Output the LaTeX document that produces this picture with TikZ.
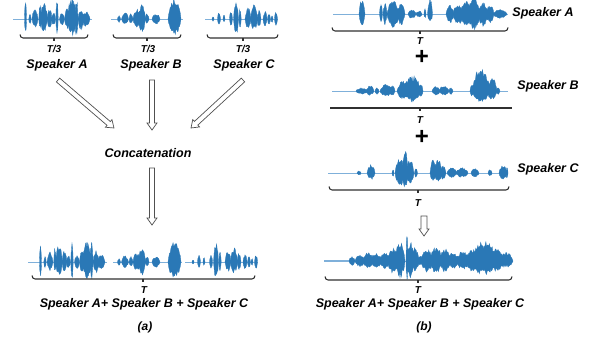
\documentclass[tikz,border=0pt]{standalone}
\usepackage{fontspec}
\setmainfont{Liberation Sans}
\usetikzlibrary{calc}
\definecolor{wavec}{HTML}{2A78B6}
\definecolor{basec}{HTML}{7FB0DA}
\definecolor{bracec}{HTML}{303030}
\definecolor{arrowc}{HTML}{505050}
\tikzset{
  wavefill/.style={fill=wavec, draw=wavec, line width=0.3pt},
  baseln/.style={draw=basec, line width=0.8pt},
  bracestyle/.style={draw=bracec, line width=1.1pt},
  lbl/.style={inner sep=0pt, font=\fontsize{12.5}{14}\selectfont\bfseries\itshape},
  smalllbl/.style={inner sep=0pt, font=\fontsize{10}{12}\selectfont\bfseries\itshape},
  caplbl/.style={inner sep=0pt, font=\fontsize{12}{14}\selectfont\bfseries\itshape},
  pluslbl/.style={inner sep=0pt, font=\fontsize{24}{24}\selectfont\bfseries},
  harrowstyle/.style={draw=arrowc, line width=0.7pt, fill=white},
}
\def\wamp{1.12}
\newcommand\wblob[4]{%
  \pgfmathtruncatemacro\wbns{max(9,3*#2)}%
  \fill[wavefill] plot[domain=-1:1,samples=\wbns] ({#1+#2*\x},{-\wamp*#3*(0.5*(1-(\x)*(\x))+0.5*sqrt(max(0,1-(\x)*(\x))))*(0.62+0.38*rnd)})
    -- plot[domain=1:-1,samples=\wbns] ({#1+#2*\x},{\wamp*#4*(0.5*(1-(\x)*(\x))+0.5*sqrt(max(0,1-(\x)*(\x))))*(0.62+0.38*rnd)}) -- cycle;}
\newcommand\wave[5]{%
  \begin{scope}[shift={(#4,#3)}]
    \draw[baseln] (#1,0) -- (#2,0);
    \foreach \wc/\ww/\wt/\wb in #5 {\wblob{\wc}{\ww}{\wt}{\wb}}
  \end{scope}}
\newcommand\wbrace[4]{%
  \draw[bracestyle] (#1,#3-3.5) to[out=-90,in=180] (#1+3,#3) -- (#2-3,#3) to[out=0,in=-90] (#2,#3-3.5);
  \draw[bracestyle] (#4,#3) -- (#4,#3+3);}
\newcommand\harrow[5]{%
  \coordinate (hh) at ($(#2)!#5!(#1)$);
  \draw[harrowstyle] ($(#1)!#3!90:(#2)$) -- ($(hh)!#3!90:(#2)$) -- ($(hh)!#4!90:(#2)$) -- (#2)
    -- ($(hh)!#4!-90:(#2)$) -- ($(hh)!#3!-90:(#2)$) -- ($(#1)!#3!-90:(#2)$) -- cycle;}
\def\blobsLA{25.5/1/17/14, 30/1.2/5/5, 35/3/9/8, 40/1.2/13/9, 44/3.5/15/12, 49.5/2.5/10/9, 53.5/2/6/6, 57/1.2/18/15, 62/2.5/6/6, 67/2.5/10/9, 72/5/18/15, 76.5/1.5/20/16, 81/3/10/10, 86/4/7/7}
\def\blobsLB{119/1.5/3/3, 125/3.5/6/5, 131/2/5/4, 137/4/9/8, 142/3.5/14/12, 147/2/5/4, 156/4/5/5, 174.5/6.5/19/15}
\def\blobsLC{213/1/2/2, 219/1.5/6/5, 224/1/4/3, 231/1.5/7/6, 236/2.5/17/15, 240/1.2/9/8, 248/3/10/9, 254/3.5/13/10, 259/2/8/7, 265/2/7/7, 269/1.5/5/5, 272/1/3/3, 276/1.5/7/6}
\def\blobsRA{362/3/14/11, 381/1.5/9/7, 385/2/10/10, 393/6/12/13, 401/4/10/10, 412/4/4/4, 419/3/3/3, 425/1/5/4, 430/2.5/14/8, 450/4/8/8, 458/5/9/10, 466/6/12/12, 474/6/15/14, 483/5/11/11, 490/4/8/8, 500/7/4/4}
\def\blobsRB{362/6/3/3, 370/4/5/4, 377/2/3/3, 386/6/6/5, 392/3/5/5, 403/6/9/7, 412/9/14/10, 421/2/6/5, 436/4/4/4, 444/5/5/4, 451/2/3/3, 472/2/7/5, 481/9/21/10, 492/5/12/8, 498/2/3/3}
\def\blobsRC{359/2/2/2, 371/4/8/6, 393/1/3/3, 400/5/14/12, 405/3/21/15, 410/4/12/10, 416/1.5/4/4, 433/3/12/8, 438/4/13/8, 443/3/7/6, 452/5/5/4, 462/6/5/4, 475/4/4/4, 490/2/3/3, 503/4/7/6, 507/1/5/5}
\def\blobsRM{352/3/4/4, 360/5/6/5, 368/5/8/7, 376/6/7/6, 385/5/8/7, 393/6/12/11, 400/5/18/15, 407/1/24/17, 410/4/18/16, 415/4/12/10, 420/3/5/4, 427/6/11/10, 436/6/13/11, 445/6/11/10, 453/5/8/7, 463/7/9/8, 472/6/11/10, 480/7/17/12, 488/7/19/13, 497/6/12/10, 506/7/8/6}
\begin{document}
\begin{tikzpicture}[x=1pt,y=-1pt]
\pgfmathsetseed{11}
\useasboundingbox (0,0) rectangle (592,343);
% ---------- left panel ----------
\wave{13}{92}{19}{0}{\blobsLA}
\wave{111}{183}{19}{0}{\blobsLB}
\wave{205}{278}{19}{0}{\blobsLC}
\wbrace{20}{88}{38}{54}
\wbrace{113}{181}{38}{147}
\wbrace{207}{278}{38}{243}
\node[smalllbl] (tA) at (54,49) {T/3};
\node[smalllbl] (tB) at (148,49) {T/3};
\node[smalllbl] (tC) at (243,49) {T/3};
\node[lbl] (spA) at (57,65) {Speaker A};
\node[lbl] (spB) at (151,65) {Speaker B};
\node[lbl] (spC) at (244,65) {Speaker C};
\node[lbl] (concat) at (148,153) {Concatenation};
\coordinate (a1s) at (58,80);  \coordinate (a1e) at (114,128);
\coordinate (a2s) at (152,80); \coordinate (a2e) at (152,130);
\coordinate (a3s) at (243,80); \coordinate (a3e) at (191,128);
\coordinate (a4s) at (152,168); \coordinate (a4e) at (152,225);
\harrow{a1s}{a1e}{2.5pt}{5pt}{7pt}
\harrow{a2s}{a2e}{2.5pt}{5pt}{7pt}
\harrow{a3s}{a3e}{2.5pt}{5pt}{7pt}
\harrow{a4s}{a4e}{2.5pt}{5pt}{7pt}
\wave{13}{92}{262}{15}{\blobsLA}
\wave{113}{182}{262}{0}{\blobsLB}
\wave{205}{278}{262}{-20}{\blobsLC}
\wbrace{32}{255}{279}{143}
\node[smalllbl] (tL) at (144,290) {T};
\node[lbl] (sumL) at (144,304) {Speaker A+ Speaker B + Speaker C};
\node[caplbl] (capa) at (145,327) {(a)};
% ---------- right panel ----------
\wave{333}{508}{14}{0}{\blobsRA}
\wbrace{332}{508}{31}{420}
\node[smalllbl] (tRA) at (420,41) {T};
\node[lbl] (rspA) at (543,13) {Speaker A};
\node[pluslbl] (plus1) at (422,57) {+};
\wave{332}{508}{91}{0}{\blobsRB}
\draw[bracestyle] (330,108) -- (512,108);
\draw[bracestyle] (420,108) -- (420,111);
\node[smalllbl] (tRB) at (420,120) {T};
\node[lbl] (rspB) at (548,86) {Speaker B};
\node[pluslbl] (plus2) at (422,137) {+};
\wave{328}{508}{173}{0}{\blobsRC}
\wbrace{329}{509}{190}{418}
\node[smalllbl] (tRC) at (418,203) {T};
\node[lbl] (rspC) at (548,169) {Speaker C};
\coordinate (a5s) at (424,216); \coordinate (a5e) at (424,236);
\harrow{a5s}{a5e}{3pt}{5pt}{7pt}
\draw[baseln, line width=1.4pt] (324,261) -- (350,261);
\wave{324}{513}{261}{0}{\blobsRM}
\wbrace{325}{512}{280}{418}
\node[smalllbl] (tRM) at (418,290) {T};
\node[lbl] (sumR) at (420,304) {Speaker A+ Speaker B + Speaker C};
\node[caplbl] (capb) at (424,327) {(b)};
\end{tikzpicture}
\end{document}
